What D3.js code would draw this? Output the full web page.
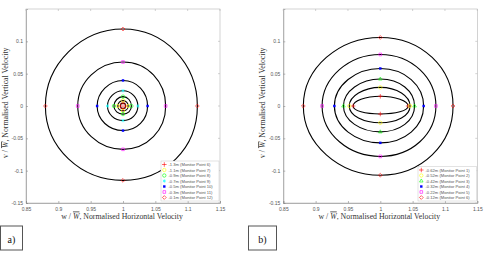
<!DOCTYPE html>
<html>
<head>
<meta charset="utf-8">
<script src="https://cdn.jsdelivr.net/npm/d3@7"></script>
<style>
  body { margin: 0; background: #fff; }
  svg { display: block; }
</style>
</head>
<body>
<script>
var width = 489, height = 259;

// panel a) monitor points, deepest first
var depthsA = ["-1.3m", "-1.1m", "-0.9m", "-0.7m", "-0.5m", "-0.3m", "-0.1m"];
var pointsA = [6, 7, 8, 9, 10, 11, 12];
var wMinA = [0.996, 0.992, 0.986, 0.976, 0.960, 0.930, 0.880];
var wMaxA = [1.004, 1.008, 1.013, 1.023, 1.038, 1.066, 1.115];
var vMaxA = [0.0045, 0.0085, 0.0145, 0.0236, 0.0395, 0.068, 0.119];
var vMinA = [-0.004, -0.0075, -0.0125, -0.0225, -0.038, -0.067, -0.115];
var markA = ["plus", "circle", "circle", "asterisk", "dot", "square", "diamond"];
var colorA = ["#ff0000", "#ffff00", "#00ff00", "#00ffff", "#0000ff", "#ff00ff", "#ff0000"];

// panel b) monitor points
var depthsB = ["-0.62m", "-0.52m", "-0.42m", "-0.32m", "-0.22m", "-0.12m"];
var pointsB = [1, 2, 3, 4, 5, 6];
var wMinB = [0.958, 0.952, 0.943, 0.929, 0.910, 0.881];
var wMaxB = [1.043, 1.046, 1.053, 1.067, 1.086, 1.1125];
var vMaxB = [0.015, 0.0288, 0.0417, 0.058, 0.0797, 0.106];
var vMinB = [-0.0124, -0.026, -0.040, -0.057, -0.078, -0.107];
var markB = ["plus", "circle", "triangle", "dot", "square", "diamond"];
var colorB = ["#ff0000", "#ffff00", "#00ff00", "#0000ff", "#ff00ff", "#ff0000"];

var xTicks = [0.85, 0.9, 0.95, 1, 1.05, 1.1, 1.15];
var yTicks = [-0.15, -0.1, -0.05, 0, 0.05, 0.1];

var svg = d3.select("body").append("svg")
  .attr("width", width)
  .attr("height", height);

var symbolTypes = {
  plus: d3.symbolPlus,
  circle: d3.symbolCircle,
  asterisk: d3.symbolAsterisk,
  square: d3.symbolSquare2,
  diamond: d3.symbolDiamond2,
  triangle: d3.symbolTriangle2,
  dot: d3.symbolSquare
};

function drawMarker(g, kind, color, x, y) {
  var size = kind == "dot" ? 6 : (kind == "plus" || kind == "asterisk") ? 8 : 9;
  var p = g.append("path")
    .attr("transform", "translate(" + x + "," + y + ")")
    .attr("d", d3.symbol().type(symbolTypes[kind]).size(size)());
  if (kind == "dot") {
    p.attr("fill", color).attr("stroke", "none");
  } else {
    p.attr("fill", "none").attr("stroke", color).attr("stroke-width", 0.6);
  }
}

function drawPanel(opt) {
  var x = d3.scaleLinear().domain([0.85, 1.15]).range([opt.left, opt.left + 194]);
  var y = d3.scaleLinear().domain([-0.15, 0.15]).range([203, 9]);
  var g = svg.append("g");

  // box
  g.append("rect")
    .attr("x", x(0.85)).attr("y", y(0.15))
    .attr("width", x(1.15) - x(0.85)).attr("height", y(-0.15) - y(0.15))
    .attr("fill", "none").attr("stroke", "#b5b5b5").attr("stroke-width", 0.6);

  var xAxis = g.append("g")
    .attr("transform", "translate(0," + y(-0.15) + ")")
    .call(d3.axisBottom(x).tickValues(xTicks).tickSize(-2).tickPadding(4)
      .tickFormat(function(d) { return String(+d.toFixed(2)); }));
  var yAxis = g.append("g")
    .attr("transform", "translate(" + x(0.85) + ",0)")
    .call(d3.axisLeft(y).tickValues(yTicks).tickSize(-2).tickPadding(3)
      .tickFormat(function(d) { return String(+d.toFixed(2)); }));
  [xAxis, yAxis].forEach(function(a) {
    a.select(".domain").attr("stroke", "#8a8a8a").attr("stroke-width", 0.6);
    a.selectAll(".tick line").attr("stroke", "#8a8a8a").attr("stroke-width", 0.6);
    a.selectAll(".tick text")
      .attr("font-family", "Liberation Sans, Arial, sans-serif")
      .attr("font-size", 5).attr("fill", "#555");
  });
  // ticks on top and right side too
  g.append("g").selectAll("line").data(xTicks).enter().append("line")
    .attr("x1", function(d) { return x(d); }).attr("x2", function(d) { return x(d); })
    .attr("y1", y(0.15)).attr("y2", y(0.15) + 2)
    .attr("stroke", "#b5b5b5").attr("stroke-width", 0.6);
  g.append("g").selectAll("line").data(yTicks).enter().append("line")
    .attr("y1", function(d) { return y(d); }).attr("y2", function(d) { return y(d); })
    .attr("x1", x(1.15)).attr("x2", x(1.15) - 2)
    .attr("stroke", "#b5b5b5").attr("stroke-width", 0.6);

  // axis labels
  var xl = g.append("text")
    .attr("x", x(1) - 1).attr("y", 218.5)
    .attr("text-anchor", "middle")
    .attr("font-family", "Liberation Serif, Times New Roman, serif")
    .attr("font-size", 7.8).attr("fill", "#333");
  xl.append("tspan").text("w / ");
  xl.append("tspan").attr("font-style", "italic").attr("text-decoration", "overline").text("W");
  xl.append("tspan").text(", Normalised Horizontal Velocity");

  var yl = g.append("text")
    .attr("transform", "translate(" + (opt.left - 18) + "," + y(0.005) + ") rotate(-90)")
    .attr("text-anchor", "middle")
    .attr("font-family", "Liberation Serif, Times New Roman, serif")
    .attr("font-size", 7.8).attr("fill", "#333");
  yl.append("tspan").text("v / ");
  yl.append("tspan").attr("font-style", "italic").attr("text-decoration", "overline").text("W");
  yl.append("tspan").text(", Normalised Vertical Velocity");

  // rings through the four monitored extremes
  var ring = d3.line()
    .x(function(p) { return x(p[0]); })
    .y(function(p) { return y(p[1]); })
    .curve(d3.curveCardinalClosed.tension(-0.657));

  var n = opt.wMin.length;
  var rings = d3.range(n).map(function(i) {
    return [[opt.wMax[i], 0], [1, opt.vMax[i]], [opt.wMin[i], 0], [1, opt.vMin[i]]];
  });

  g.append("g").selectAll("path").data(rings).enter().append("path")
    .attr("d", ring)
    .attr("fill", "none")
    .attr("stroke", "#000")
    .attr("stroke-width", 1.1);

  var marks = g.append("g");
  rings.forEach(function(pts, i) {
    pts.forEach(function(p) {
      drawMarker(marks, opt.mark[i], opt.color[i], x(p[0]), y(p[1]));
    });
  });

  // legend
  var lg = g.append("g");
  lg.append("rect")
    .attr("x", opt.legX).attr("y", opt.legY)
    .attr("width", opt.legW).attr("height", n * 5.5 + 1.5)
    .attr("fill", "#fff").attr("stroke", "#c8c8c8").attr("stroke-width", 0.5);
  d3.range(n).forEach(function(i) {
    var ly = opt.legY + 3.5 + i * 5.5;
    drawMarker(lg, opt.mark[i], opt.color[i], opt.legX + 3.3, ly);
    lg.append("text")
      .attr("x", opt.legX + 7.5).attr("y", ly + 1.5)
      .attr("font-family", "Liberation Sans, Arial, sans-serif")
      .attr("font-size", 4.1).attr("fill", "#555")
      .text(opt.depths[i] + " (Monitor Point " + opt.points[i] + ")");
  });

  // panel tag
  svg.append("rect")
    .attr("x", opt.tagX + 0.5).attr("y", 226)
    .attr("width", opt.tagW).attr("height", 24)
    .attr("fill", "none").attr("stroke", "#555").attr("stroke-width", 1);
  svg.append("text")
    .attr("x", opt.tagX + 0.5 + opt.tagW / 2).attr("y", 242.5)
    .attr("text-anchor", "middle")
    .attr("font-family", "Liberation Serif, Times New Roman, serif")
    .attr("font-size", 10).attr("fill", "#111")
    .text(opt.tag);
}

drawPanel({
  left: 26, wMin: wMinA, wMax: wMaxA, vMax: vMaxA, vMin: vMinA,
  mark: markA, color: colorA, depths: depthsA, points: pointsA,
  legX: 161, legY: 161, legW: 58, tag: "a)", tagX: 0, tagW: 22
});
drawPanel({
  left: 283.3, wMin: wMinB, wMax: wMaxB, vMax: vMaxB, vMin: vMinB,
  mark: markB, color: colorB, depths: depthsB, points: pointsB,
  legX: 418, legY: 166.5, legW: 58.5, tag: "b)", tagX: 248, tagW: 28
});
</script>
</body>
</html>
